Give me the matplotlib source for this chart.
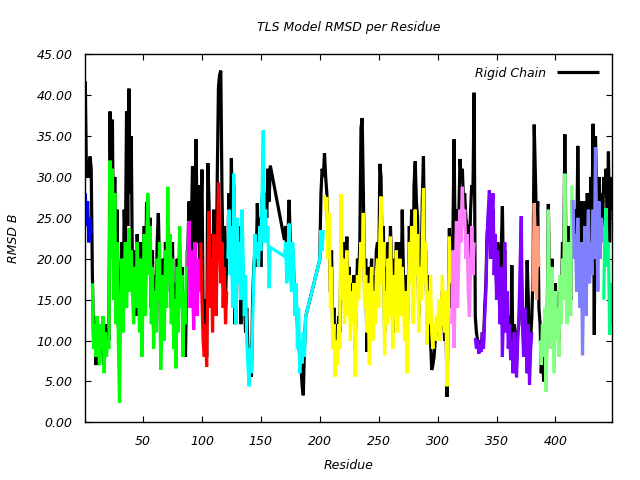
import numpy as np
import matplotlib.pyplot as plt

# residues present (gaps at 159-169 and 189-199)
residues = list(range(1, 159)) + list(range(170, 189)) + list(range(200, 449))

# first residue of each TLS group and its colour
group_starts = [1, 7, 88, 99, 122, 204, 312, 332, 381, 387, 415, 441]
group_colors = ['#0000ff', '#00ff00', '#ff00ff', '#ff0000', '#00ffff', '#ffff00',
                '#ff80ff', '#8000ff', '#ff9f80', '#80ff80', '#8080ff', '#00ff80']

# RMSD of the TLS model, one line per group
tls = (
    [28, 24, 27, 22, 25, 23] +
    [17, 9, 12, 8, 13, 10, 7, 12, 9, 13, 6, 11, 8, 10,
     9, 32, 20, 31, 15, 28, 12, 22, 10, 2.4,
     14, 20, 11, 18, 22, 14, 19, 23.7, 16, 21,
     16, 12, 19, 14, 22, 17, 11, 20, 8, 15, 23, 13, 21, 28, 18, 24,
     12, 19, 9, 16, 11, 20, 15, 22, 6.4, 13, 18, 10, 21, 14,
     28.8, 17, 23, 12, 20, 9, 15, 6.6, 19, 11, 24, 14, 18, 8, 16, 12, 21] +
    [19, 24.6, 14, 21, 17, 11.3, 22, 18, 13, 20, 16] +
    [22, 15, 10, 8, 12, 6.8, 18, 25.8, 14, 20, 11, 23, 16, 13, 21, 29.3, 24, 17, 22, 14, 19, 12, 16] +
    [20, 26, 18, 24, 14, 30.4, 19, 12, 25, 17, 22, 15, 26, 20, 13, 18, 10, 7, 4.4, 9,
     6, 12, 18, 23, 20, 22, 19, 24, 21, 28, 35.7, 22, 26, 22, 24, 16.4, 21.4,
     20.3, 22, 17, 21, 24.3, 18, 16, 22, 19, 13, 17, 9, 14, 6, 10, 7.2, 11, 8, 12.9,
     19.9, 23.5, 21, 23.5] +
    [27.8, 26, 27.5,
     20, 25.6, 14, 19, 9, 12, 5.6, 10, 7, 12, 9,
     27.9, 15, 20, 12, 17, 21, 13, 18, 10, 16, 12, 17,
     5.6, 13, 18, 15, 19, 22, 19, 25.6, 14, 18,
     11, 17, 7, 15, 19, 10, 16, 12, 18,
     20, 14, 23, 27.6, 17, 22, 8.2, 16, 12,
     20, 13, 22.7, 16, 9, 18, 14, 21, 11, 17, 20, 13, 19, 15, 10, 16, 6,
     14, 22, 17, 24, 12, 20, 26, 18, 23, 11, 19, 15, 21, 28.6, 17, 22, 9.5, 16, 12, 18,
     11, 9, 12, 10, 13, 11, 15, 10, 12, 18, 14, 11, 16, 4.4, 12, 22.7, 17] +
    [12, 21, 9.1, 18, 24.6, 14, 20, 26, 22, 28.8, 24, 26, 20, 23, 16, 12.9, 19, 24, 18, 22] +
    [10.3, 9, 10, 8.4, 9.5, 8.6, 11, 9, 13, 16, 22, 26, 28.4, 20, 25, 28, 18, 23, 15, 21,
     17, 12, 19, 8, 14, 22, 11, 16, 9, 12, 7.6, 10, 6, 11, 8, 5.5, 10, 13, 19, 25.2,
     12, 8, 14, 10, 6, 12, 4.6, 9, 11] +
    [16, 26.8, 22, 15, 24, 19] +
    [10, 7, 12, 8, 14, 3.75, 10, 26, 15, 9, 19, 12, 6, 16, 10, 14, 8, 18, 12, 20,
     15, 30.4, 17, 12, 22, 16, 13, 29] +
    [27.2, 20, 23, 16, 25, 19, 14, 22, 8.2, 18, 24, 13, 21, 26, 17, 22, 18, 26, 20, 33.6,
     24, 16, 27, 20, 25, 22] +
    [15, 24, 26.2, 19, 22, 10.7, 17, 12]
)

# RMSD of the rigid chain model
rigid = (
    [41.7, 30, 32, 30, 32.5, 31] +
    [18, 10, 13, 7, 12, 9, 7, 11, 10, 12, 7, 12, 9, 11,
     10, 38, 22, 37, 18, 30, 14, 26, 12, 10,
     16, 22, 14, 26, 21, 38, 24, 40.8, 28, 35,
     18, 15, 21, 13, 23, 19, 14, 22, 11, 17, 24, 16, 26.8, 27, 20, 25,
     14, 21, 11, 18, 15, 22, 25.6, 19, 9, 15, 20, 12, 22, 16,
     24, 19, 21, 14, 22, 11, 17, 9, 20, 13, 22, 15, 19, 10, 14, 8, 17] +
    [21, 27, 18, 24, 31.3, 20, 26, 34.6, 22, 29, 19] +
    [24, 30.9, 13, 10, 15, 8, 31.7, 27, 17, 23, 14, 26, 19, 16, 30, 41, 42.5, 43, 28, 19, 24, 15, 20] +
    [22, 28, 21, 32.3, 17, 29, 12, 15, 23, 19, 24, 12, 22, 17, 15, 11, 14, 9, 6, 7,
     5.6, 15, 19, 21, 19, 26.8, 22, 25, 19, 27, 29, 23, 28, 25, 31, 27, 31.4,
     22.3, 24, 21, 23, 27.2, 22, 20, 21, 18, 16, 15, 12, 10, 8, 7, 4.5, 3.3, 9, 12.9,
     19.9, 28, 31, 30] +
    [32.9, 30, 28,
     22, 22, 16, 21, 11, 14, 9, 12, 9, 13, 11,
     21, 17, 22, 14, 19, 22.7, 15, 19, 13, 17, 14, 18,
     9, 15, 20, 18, 22, 36, 37.2, 28, 16, 20,
     8.6, 19, 10, 17, 20, 12, 18, 14, 21,
     22, 17, 31.6, 30, 19, 24, 11, 19, 15,
     22, 16, 24, 19, 11, 20, 16, 22, 13, 19, 22, 15, 26, 18, 13, 18, 9,
     16, 24, 20, 26, 14, 29, 31.9, 27, 25, 13, 17, 18, 27, 32.5, 20, 21, 12, 18, 14, 10,
     6.4, 7, 8, 10, 12, 11, 13, 11, 12, 16, 13, 10, 14, 3.1, 13, 23.7, 18] +
    [14, 23, 34.6, 20, 26, 18, 25, 32.2, 30, 31, 27, 28, 25, 24, 22, 20, 26, 29, 28, 40.3] +
    [12.9, 10.9, 10, 9.5, 10, 9, 11, 10, 14, 17, 23, 25, 27, 22, 24, 26, 20, 22, 17, 22,
     19, 14, 21, 26.4, 16, 21, 13, 14, 11, 13, 9, 19.2, 8, 12, 10, 7, 11, 12, 15, 19,
     14, 10, 13, 11, 19.8, 15, 7, 10, 13] +
    [18, 36.4, 30, 24, 27, 14] +
    [12, 6, 10, 5, 13, 6, 12, 26.7, 17, 11, 20, 14, 9, 17, 11, 13, 10, 16, 14, 22,
     18, 35.2, 20, 15, 24, 18, 15, 27] +
    [24, 22, 26, 20, 33.8, 22, 17, 27, 14, 26, 27, 18, 28, 24, 21, 30, 25, 36.5, 10.7, 35,
     28, 20, 30, 25, 28, 24] +
    [30, 28, 31, 24, 33.1, 22, 30, 26]
)

res = np.array(residues)
tls = np.array(tls, dtype=float)
rigid = np.array(rigid, dtype=float)

font = {'family': 'DejaVu Sans', 'style': 'italic', 'size': 9}
line_kw = dict(lw=2.3, solid_joinstyle='miter', solid_capstyle='butt')

fig = plt.figure(figsize=(6.4, 4.8), dpi=100)
ax = fig.add_axes([0.1333, 0.1202, 0.8229, 0.7667])

ax.plot(res, rigid, color='black', label='Rigid Chain', **line_kw)
bounds = group_starts + [10000]
for i, c in enumerate(group_colors):
    m = (res >= bounds[i]) & (res < bounds[i + 1])
    ax.plot(res[m], tls[m], color=c, **line_kw)

ax.set_xlim(1, 448)
ax.set_ylim(0, 45)
ax.set_xticks(np.arange(50, 401, 50))
ax.set_yticks(np.arange(0, 46, 5))
ax.set_yticklabels(['%.2f' % v for v in np.arange(0, 46, 5)], fontdict=font)
ax.set_xticklabels([str(v) for v in np.arange(50, 401, 50)], fontdict=font)
ax.tick_params(direction='in', length=4.5, width=0.8, top=True, right=True, pad=9)
for s in ax.spines.values():
    s.set_linewidth(1.0)

ax.set_title('TLS Model RMSD per Residue', fontdict=font, pad=17)
ax.set_xlabel('Residue', fontdict=font, labelpad=8)
ax.set_ylabel('RMSD B', fontdict=font, labelpad=12)

leg = ax.legend(loc='upper right', frameon=False, prop={'style': 'italic', 'size': 9},
                markerfirst=False, handlelength=3.4, handletextpad=0.9,
                borderaxespad=0.6)

fig.savefig('out.png', dpi=100)
